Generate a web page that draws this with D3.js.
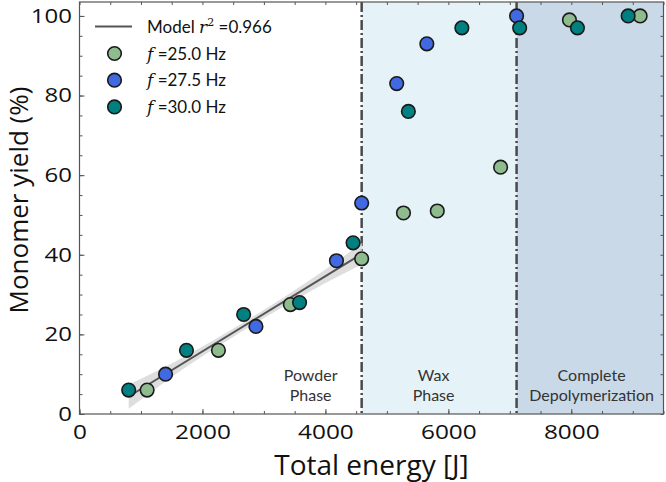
<!DOCTYPE html>
<html>
<head>
<meta charset="utf-8">
<script src="https://cdn.jsdelivr.net/npm/d3@7"></script>
<style>
  html, body { margin: 0; padding: 0; background: #fff; }
  svg { display: block; }
  text { font-family: Lato, "Open Sans", sans-serif; }
</style>
</head>
<body>
<svg id="chart" width="666" height="482"></svg>
<script>
// ---- data ----
const energy25 = [1100, 2260, 3430, 4590, 5270, 5820, 6850, 7970, 9120];
const yield25  = [6, 16, 27.5, 39, 50.5, 51, 62, 99, 100];
const energy275 = [1400, 2870, 4180, 4590, 5160, 5650, 7110];
const yield275  = [10, 22, 38.5, 53, 83, 93, 100];
const energy30 = [800, 1740, 2670, 3580, 4450, 5350, 6220, 7160, 8100, 8925];
const yield30  = [6, 16, 25, 28, 43, 76, 97, 97, 97, 100];

const modelEnergy = [800, 4600];
const modelYield  = [4.4, 40.3];
const bandEnergy = [800, 1500, 2200, 2700, 3400, 4000, 4600];
const bandLower  = [1.3, 9.3, 16.5, 21.3, 27.7, 32.9, 37.6];
const bandUpper  = [7.4, 12.7, 18.7, 23.3, 30.1, 36.3, 43.0];

const phaseBounds = [4590, 7110];
const phaseNames = [["Powder", "Phase"], ["Wax", "Phase"], ["Complete", "Depolymerization"]];
const phaseLabelX = [3760, 5760, 8330];

const xTicks = [0, 2000, 4000, 6000, 8000];
const yTicks = [0, 20, 40, 60, 80, 100];

const seriesNames = ["25.0", "27.5", "30.0"];
const seriesColors = ["#8fbc8f", "#4169e1", "#008080"];
const r2 = "0.966";

// ---- layout ----
const svg = d3.select("#chart");
const L = 79.5, R = 663.5, T = 2, B = 414;
const x = d3.scaleLinear().domain([0, 9500]).range([L, R]);
const y = d3.scaleLinear().domain([0, 103.5]).range([B, T]);

// phase backgrounds
svg.append("rect").attr("x", x(phaseBounds[0])).attr("y", T)
  .attr("width", x(phaseBounds[1]) - x(phaseBounds[0])).attr("height", B - T)
  .attr("fill", "#e5f2f8");
svg.append("rect").attr("x", x(phaseBounds[1])).attr("y", T)
  .attr("width", R - x(phaseBounds[1])).attr("height", B - T)
  .attr("fill", "#c9d9e8");

// phase boundaries
phaseBounds.forEach(b => {
  svg.append("line").attr("x1", x(b)).attr("x2", x(b)).attr("y1", T).attr("y2", B)
    .attr("stroke", "#4a4a4a").attr("stroke-width", 2.5)
    .attr("stroke-dasharray", "10,3,2,3");
});

// phase labels
phaseNames.forEach((lines, i) => {
  lines.forEach((t, j) => {
    svg.append("text").attr("x", x(phaseLabelX[i])).attr("y", 381 + j * 20)
      .attr("text-anchor", "middle").attr("font-size", 16).attr("fill", "#333")
      .text(t);
  });
});

// model band & line
const bandData = bandEnergy.map((e, i) => ({e, lo: bandLower[i], hi: bandUpper[i]}));
svg.append("path").datum(bandData)
  .attr("d", d3.area().x(d => x(d.e)).y0(d => y(d.lo)).y1(d => y(d.hi)).curve(d3.curveMonotoneX))
  .attr("fill", "#d6d6d6").attr("opacity", 0.8);
svg.append("path").datum(modelEnergy.map((e, i) => [e, modelYield[i]]))
  .attr("d", d3.line().x(d => x(d[0])).y(d => y(d[1])))
  .attr("stroke", "#555").attr("stroke-width", 2).attr("fill", "none");

// points
const series = [[energy25, yield25], [energy275, yield275], [energy30, yield30]];
series.forEach(([es, ys], s) => {
  svg.append("g").selectAll("circle").data(es.map((e, i) => [e, ys[i]])).join("circle")
    .attr("cx", d => x(d[0])).attr("cy", d => y(d[1])).attr("r", 6.8)
    .attr("fill", seriesColors[s]).attr("stroke", "#1a1a1a").attr("stroke-width", 1.6);
});

// axes (inward ticks on all sides)
const frameColor = "#555";
function styleAxis(g) {
  g.select(".domain").remove();
  g.selectAll("line").attr("stroke", frameColor);
}
const xMinor = d3.range(0, 9501, 500);
const yMinor = d3.range(0, 103.5, 5);
svg.append("g").attr("transform", `translate(0,${B})`)
  .call(d3.axisBottom(x).tickValues(xMinor).tickSize(-3).tickFormat(""))
  .call(styleAxis);
svg.append("g").attr("transform", `translate(0,${T})`)
  .call(d3.axisTop(x).tickValues(xMinor).tickSize(-3).tickFormat(""))
  .call(styleAxis);
svg.append("g").attr("transform", `translate(${L},0)`)
  .call(d3.axisLeft(y).tickValues(yMinor).tickSize(-3).tickFormat(""))
  .call(styleAxis);
svg.append("g").attr("transform", `translate(${R},0)`)
  .call(d3.axisRight(y).tickValues(yMinor).tickSize(-3).tickFormat(""))
  .call(styleAxis);

const xAx = svg.append("g").attr("transform", `translate(0,${B})`)
  .call(d3.axisBottom(x).tickValues(xTicks).tickSize(-5).tickPadding(11).tickFormat(d3.format("d")))
  .call(styleAxis);
xAx.selectAll("text").attr("font-size", 20).attr("fill", "#111")
  .attr("x", 0).attr("transform", "scale(1.22,1)")
  .style("font-family", "'Open Sans', sans-serif");
const yAx = svg.append("g").attr("transform", `translate(${L},0)`)
  .call(d3.axisLeft(y).tickValues(yTicks).tickSize(-5).tickPadding(8).tickFormat(d3.format("d")))
  .call(styleAxis);
yAx.selectAll("text").attr("font-size", 20).attr("fill", "#111")
  .attr("x", 0).attr("transform", "translate(-7.5,0) scale(1.2,1)")
  .style("font-family", "'Open Sans', sans-serif");

// frame
svg.append("rect").attr("x", L).attr("y", T).attr("width", R - L).attr("height", B - T)
  .attr("fill", "none").attr("stroke", frameColor).attr("stroke-width", 1.2);

// axis titles
svg.append("text").attr("x", 371.5).attr("y", 475).attr("text-anchor", "middle")
  .attr("font-size", 28).attr("fill", "#111")
  .style("font-family", "'Open Sans', sans-serif").text("Total energy [J]");
svg.append("text").attr("transform", "translate(28,200) rotate(-90)")
  .attr("text-anchor", "middle").attr("font-size", 26).attr("fill", "#111")
  .style("font-family", "'Open Sans', sans-serif")
  .text("Monomer yield (%)");

// legend
const lg = svg.append("g");
lg.append("line").attr("x1", 95).attr("x2", 132).attr("y1", 26.5).attr("y2", 26.5)
  .attr("stroke", "#555").attr("stroke-width", 1.8);
const t0 = lg.append("text").attr("x", 147).attr("y", 33).attr("font-size", 17).attr("fill", "#111");
t0.append("tspan").text("Model ");
t0.append("tspan").attr("font-style", "italic").attr("font-family", "DejaVu Serif, serif").text("r");
t0.append("tspan").attr("dy", -7).attr("font-size", 11).attr("font-family", "DejaVu Serif, serif").text("2");
t0.append("tspan").attr("dy", 7).text(" =" + r2);
seriesNames.forEach((n, i) => {
  const cy = 53.5 + i * 26.7;
  lg.append("circle").attr("cx", 114.5).attr("cy", cy).attr("r", 6.8)
    .attr("fill", seriesColors[i]).attr("stroke", "#1a1a1a").attr("stroke-width", 1.6);
  const t = lg.append("text").attr("x", 147).attr("y", cy + 6).attr("font-size", 17).attr("fill", "#111");
  t.append("tspan").attr("font-style", "italic").attr("font-family", "DejaVu Serif, serif").text("f");
  t.append("tspan").text(" =" + n + " Hz");
});
</script>
</body>
</html>
